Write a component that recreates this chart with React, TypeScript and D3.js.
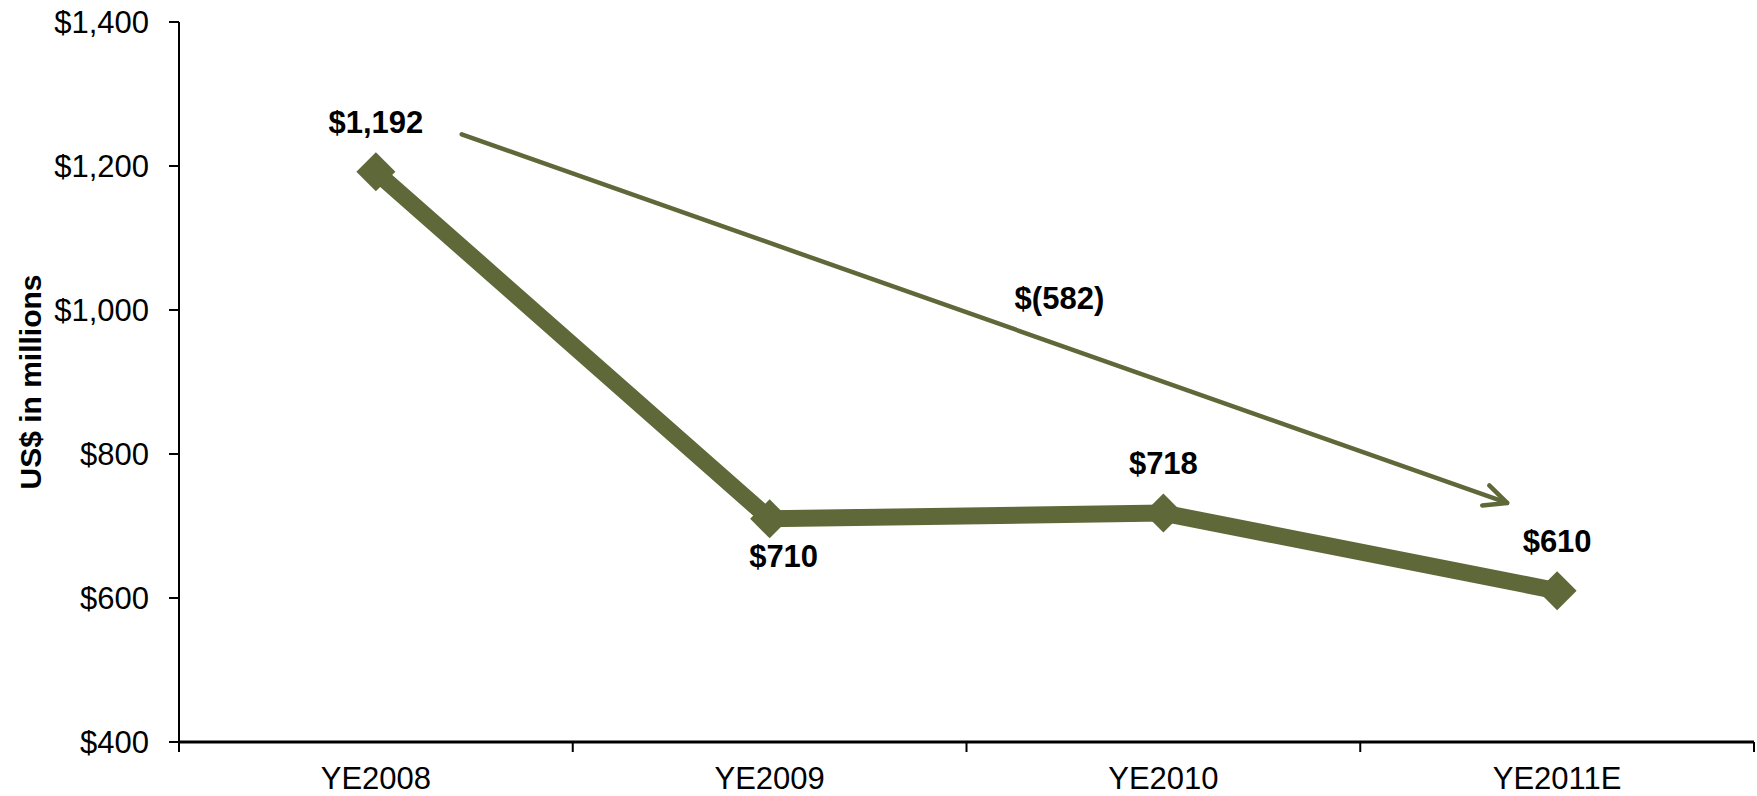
import React from "react";
import * as d3 from "d3";

// Year-end balances, US$ millions
const categories = ["YE2008", "YE2009", "YE2010", "YE2011E"];
const values = [1192, 710, 718, 610];
// Labels that sit under their marker instead of above it
const labelBelow = [false, true, false, false];
const yTicks = [400, 600, 800, 1000, 1200, 1400];
const yDomain = [400, 1400];

// Trend arrow: start/end as [category index, band offset, value]
const arrowStart = [0, 0.218, 1244];
const arrowEnd = [3, -0.127, 732];

const W = 1757;
const H = 796;
const left = 179;
const right = 1754;
const top = 22;
const bottom = 742;
const olive = "#5F6838";
const font = "Liberation Sans, Arial, Helvetica, sans-serif";

const money = (v: number) =>
  v < 0 ? `$(${d3.format(",")(-v)})` : `$${d3.format(",")(v)}`;

export default function App() {
  const x = d3.scaleBand<string>().domain(categories).range([left, right]).padding(0);
  const y = d3.scaleLinear().domain(yDomain).range([bottom, top]);
  const bw = x.bandwidth();
  const cx = (i: number) => (x(categories[i]) as number) + bw / 2;

  const line = d3
    .line<number>()
    .x((_, i) => cx(i))
    .y((d) => y(d));

  const ax = cx(arrowStart[0]) + arrowStart[1] * bw;
  const ay = y(arrowStart[2]);
  const bx = cx(arrowEnd[0]) + arrowEnd[1] * bw;
  const by = y(arrowEnd[2]);
  const ang = Math.atan2(by - ay, bx - ax);
  const headLen = 25;
  const headAng = (25 * Math.PI) / 180;
  const w1 = [bx - headLen * Math.cos(ang - headAng), by - headLen * Math.sin(ang - headAng)];
  const w2 = [bx - headLen * Math.cos(ang + headAng), by - headLen * Math.sin(ang + headAng)];

  const change = values[values.length - 1] - values[0];
  const diamond = d3.symbol().type(d3.symbolDiamond2).size(2 * 22 * 22);

  return (
    <svg
      width={W}
      height={H}
      style={{ position: "absolute", left: 0, top: 0, background: "#fff" }}
      fontFamily={font}
    >
      {/* y axis */}
      <line x1={left} x2={left} y1={top} y2={bottom} stroke="#000" strokeWidth={2} />
      {yTicks.map((t) => (
        <g key={t}>
          <line x1={left - 10} x2={left} y1={y(t)} y2={y(t)} stroke="#000" strokeWidth={2} />
          <text x={left - 30} y={y(t)} dy="0.35em" textAnchor="end" fontSize={31} fill="#000">
            {money(t)}
          </text>
        </g>
      ))}
      <text
        transform={`translate(41, ${(top + bottom) / 2}) rotate(-90)`}
        textAnchor="middle"
        fontSize={30}
        fontWeight="bold"
        fill="#000"
      >
        US$ in millions
      </text>

      {/* x axis */}
      <line x1={left} x2={right} y1={bottom} y2={bottom} stroke="#000" strokeWidth={3} />
      {[...categories.map((c) => x(c) as number), right].map((p, i) => (
        <line key={i} x1={p} x2={p} y1={bottom} y2={bottom + 10} stroke="#000" strokeWidth={2} />
      ))}
      {categories.map((c, i) => (
        <text key={c} x={cx(i)} y={789} textAnchor="middle" fontSize={31} fill="#000">
          {c}
        </text>
      ))}

      {/* trend arrow */}
      <g stroke={olive} strokeWidth={4.5} strokeLinecap="round" strokeLinejoin="round" fill="none">
        <line x1={ax} y1={ay} x2={bx} y2={by} />
        <polyline points={`${w1[0]},${w1[1]} ${bx},${by} ${w2[0]},${w2[1]}`} />
      </g>
      <text
        x={(ax + bx) / 2 + 75}
        y={(ay + by) / 2 - 9.5}
        textAnchor="middle"
        fontSize={31}
        fontWeight="bold"
        fill="#000"
      >
        {money(change)}
      </text>

      {/* series */}
      <path d={line(values) as string} fill="none" stroke={olive} strokeWidth={17} strokeLinejoin="miter" />
      {values.map((v, i) => (
        <path key={i} d={diamond() as string} transform={`translate(${cx(i)},${y(v)})`} fill={olive} />
      ))}
      {values.map((v, i) => (
        <text
          key={i}
          x={cx(i) + (labelBelow[i] ? 14 : 0)}
          y={y(v) + (labelBelow[i] ? 48 : -39)}
          textAnchor="middle"
          fontSize={31}
          fontWeight="bold"
          fill="#000"
        >
          {money(v)}
        </text>
      ))}
    </svg>
  );
}
